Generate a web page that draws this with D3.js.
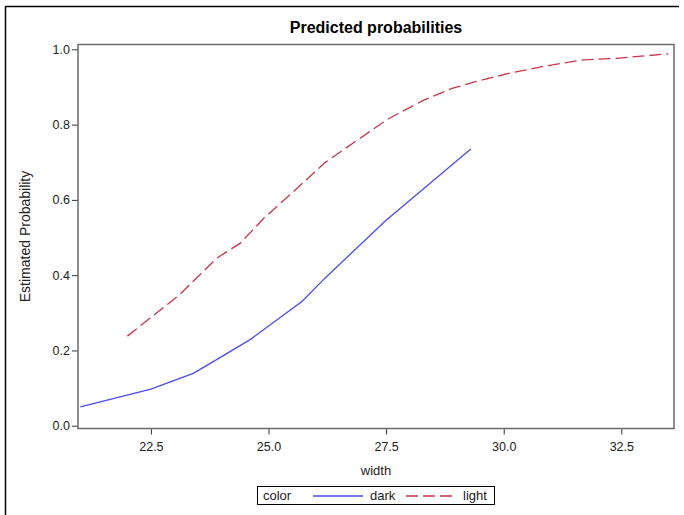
<!DOCTYPE html>
<html>
<head>
<meta charset="utf-8">
<script src="https://cdn.jsdelivr.net/npm/d3@7"></script>
<style>
  body { margin: 0; background: #fff; }
  text { font-family: "Liberation Sans", Arial, sans-serif; fill: #222; }
</style>
</head>
<body>
<svg id="chart" width="684" height="515"></svg>
<script>
var darkWidth = [21.0, 22.5, 23.4, 23.7, 24.6, 25.5, 25.7, 26.2, 27.5, 29.3]
var darkProb  = [0.050, 0.097, 0.139, 0.161, 0.228, 0.311, 0.329, 0.392, 0.546, 0.735]
var lightWidth = [22.0, 23.1, 23.9, 24.4, 24.9, 25.6, 26.2, 27.4, 27.6, 28.3, 28.9, 29.4, 30.1, 30.9, 31.7, 32.4, 33.5]
var lightProb  = [0.238, 0.347, 0.445, 0.485, 0.551, 0.630, 0.699, 0.803, 0.819, 0.865, 0.896, 0.914, 0.936, 0.956, 0.972, 0.976, 0.988]
var xTicks = [22.5, 25.0, 27.5, 30.0, 32.5]
var yTicks = [0.0, 0.2, 0.4, 0.6, 0.8, 1.0]

var svg = d3.select("#chart")

var plotLeft = 78, plotRight = 674, plotTop = 44.5, plotBottom = 428.5

var x = d3.scaleLinear().domain([20.95, 33.62]).range([plotLeft, plotRight])
var y = d3.scaleLinear().domain([-0.0074, 1.0128]).range([plotBottom, plotTop])

// outer frame (only left and top show in the picture)
svg.append("line").attr("x1", 5.5).attr("x2", 5.5).attr("y1", 6).attr("y2", 515)
   .attr("stroke", "#000").attr("stroke-width", 1.5)
svg.append("line").attr("x1", 5).attr("x2", 679).attr("y1", 6.5).attr("y2", 6.5)
   .attr("stroke", "#000").attr("stroke-width", 1.5)

svg.append("text")
   .attr("x", (plotLeft + plotRight) / 2).attr("y", 33)
   .attr("text-anchor", "middle")
   .style("font-size", "16px").style("font-weight", "bold").style("fill", "#000")
   .text("Predicted probabilities")

var xAxis = svg.append("g")
   .attr("transform", `translate(0,${plotBottom})`)
   .call(d3.axisBottom(x).tickValues(xTicks).tickFormat(d3.format(".1f")).tickSize(6).tickSizeOuter(0).tickPadding(8))
var yAxis = svg.append("g")
   .attr("transform", `translate(${plotLeft},0)`)
   .call(d3.axisLeft(y).tickValues(yTicks).tickFormat(d3.format(".1f")).tickSize(6).tickSizeOuter(0).tickPadding(2))

svg.selectAll(".domain").remove()
svg.selectAll(".tick line").attr("stroke", "#333")
svg.selectAll(".tick text")
   .style("font-size", "12.5px").style("font-family", "Liberation Sans, Arial, sans-serif")
   .attr("fill", "#333")

// plot area border
svg.append("rect")
   .attr("x", plotLeft).attr("y", plotTop)
   .attr("width", plotRight - plotLeft).attr("height", plotBottom - plotTop)
   .attr("fill", "none").attr("stroke", "#6a6a6a").attr("stroke-width", 1.5)

var line = d3.line()
   .x((d) => x(d[0]))
   .y((d) => y(d[1]))

svg.append("path")
   .datum(darkWidth.map((w, i) => [w, darkProb[i]]))
   .attr("d", line)
   .attr("fill", "none").attr("stroke", "#4b4bee").attr("stroke-width", 1.3)

svg.append("path")
   .datum(lightWidth.map((w, i) => [w, lightProb[i]]))
   .attr("d", line)
   .attr("fill", "none").attr("stroke", "#c8364c").attr("stroke-width", 1.3)
   .attr("stroke-dasharray", "12,5")

svg.append("text")
   .attr("x", (plotLeft + plotRight) / 2).attr("y", 475)
   .attr("text-anchor", "middle").style("font-size", "13px")
   .text("width")

svg.append("text")
   .attr("transform", `translate(30,${(plotTop + plotBottom) / 2}) rotate(-90)`)
   .attr("text-anchor", "middle").style("font-size", "14px")
   .text("Estimated Probability")

// legend
var legend = svg.append("g")
legend.append("rect")
   .attr("x", 257.5).attr("y", 486.5).attr("width", 237).attr("height", 18)
   .attr("fill", "#fff").attr("stroke", "#000").attr("stroke-width", 1)
legend.append("text").attr("x", 263).attr("y", 500).style("font-size", "13px").text("color")
legend.append("line").attr("x1", 313).attr("x2", 363).attr("y1", 496).attr("y2", 496)
   .attr("stroke", "#4b4bee").attr("stroke-width", 1.3)
legend.append("text").attr("x", 370).attr("y", 500).style("font-size", "13px").text("dark")
legend.append("line").attr("x1", 406).attr("x2", 454).attr("y1", 496).attr("y2", 496)
   .attr("stroke", "#c8364c").attr("stroke-width", 1.3).attr("stroke-dasharray", "12,5")
legend.append("text").attr("x", 463).attr("y", 500).style("font-size", "13px").text("light")
</script>
</body>
</html>
